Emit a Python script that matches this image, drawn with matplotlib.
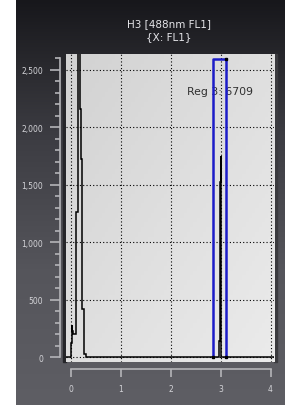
import numpy as np
import matplotlib.pyplot as plt
from matplotlib.patches import Rectangle
from matplotlib.colors import LinearSegmentedColormap

# histogram (bin edges, counts)
bin_edges = [-0.10, 0.01, 0.02, 0.03, 0.04, 0.10, 0.15, 0.18, 0.20, 0.23, 0.27, 0.30,
             2.97, 2.99, 3.00, 3.01, 4.10]
counts = [0, 120, 280, 230, 200, 1260, 2900, 2160, 1720, 420, 25, 0,
          140, 1520, 1750, 0]

# region gate
gate_x = [2.85, 2.85, 3.10, 3.10]
gate_y = [0, 2590, 2590, 0]
gate_label = 'Reg 3: 6709'
label_pos = (2.33, 2310)

x_ticks = [0, 1, 2, 3, 4]
x_labels = ['0', '1', '2', '3', '4']
y_ticks = [0, 500, 1000, 1500, 2000, 2500]
y_labels = ['0', '500', '1,000', '1,500', '2,000', '2,500']
title_lines = ['H3 [488nm FL1]', '{X: FL1}']

W, H = 285, 406
fig = plt.figure(figsize=(W / 100, H / 100), dpi=100)
fig.patch.set_facecolor('white')

# dark panel background
bg = fig.add_axes([16 / W, 0, 1 - 16 / W, 1], zorder=-10)
bg_cmap = LinearSegmentedColormap.from_list('bg', ['#17171b', '#3c3c42', '#55555b', '#5e5e64'])
bg.imshow(np.linspace(0, 1, 256)[:, None], aspect='auto', cmap=bg_cmap, extent=[0, 1, 0, 1])
bg.set_axis_off()

# plot frame shading
fig.patches.append(Rectangle((63 / W, 1 - 363 / H), 3 / W, 308 / H, transform=fig.transFigure,
                             color='#26262a', zorder=-5))
fig.patches.append(Rectangle((274 / W, 1 - 363 / H), 3 / W, 308 / H, transform=fig.transFigure,
                             color='#3a3a3e', zorder=-5))

ax = fig.add_axes([66 / W, 1 - 363 / H, 208 / W, 308 / H])
xlim = (-0.10, 4.07)
ylim = (-43, 2635)
ax.set_xlim(*xlim)
ax.set_ylim(*ylim)

plot_cmap = LinearSegmentedColormap.from_list('pl', ['#d2d2d2', '#dfdfdf', '#ebebeb'])
gx, gy = np.meshgrid(np.linspace(0, 1, 64), np.linspace(0, 1, 64))
ax.imshow((gx + gy) / 2, aspect='auto', cmap=plot_cmap, extent=[*xlim, *ylim],
          origin='upper', zorder=0)

for t in x_ticks:
    ax.axvline(t, color='black', lw=0.8, ls=(0, (1, 2)), zorder=1)
for t in y_ticks:
    ax.axhline(t, color='black', lw=0.8, ls=(0, (1, 2)), zorder=1)

ax.stairs(counts, bin_edges, color='black', lw=1.1, zorder=3)

ax.text(*label_pos, gate_label, fontsize=7.8, color='#303030',
        va='center', ha='left', zorder=2)
ax.plot(gate_x, gate_y, color='#1c1cc8', lw=1.8, solid_joinstyle='round', zorder=4)
ax.plot([gate_x[0], gate_x[3], gate_x[2]], [gate_y[0], gate_y[3], gate_y[2]], 's',
        color='black', ms=2, zorder=5)

# axes styling
for s in ['top', 'right']:
    ax.spines[s].set_visible(False)
ax.spines['left'].set_position(('outward', 4.3))
ax.spines['bottom'].set_position(('outward', 5))
ax.spines['left'].set_bounds(0, 2600)
ax.spines['bottom'].set_bounds(0, 4)
for s in ['left', 'bottom']:
    ax.spines[s].set_color('#b4b4b8')
    ax.spines[s].set_linewidth(1.2)

ax.set_xticks(x_ticks)
ax.set_xticklabels(x_labels)
ax.set_yticks(y_ticks)
ax.set_yticklabels(y_labels)
ax.set_yticks(np.arange(0, 2601, 100), minor=True)
ax.tick_params(axis='y', which='major', length=7, width=1.2, color='#b4b4b8',
               labelcolor='#d4d4d8', labelsize=5.5, pad=5)
ax.tick_params(axis='y', which='minor', length=3.6, width=1.2, color='#b4b4b8')
ax.tick_params(axis='x', which='major', length=5.8, width=1.2, color='#b4b4b8',
               labelcolor='#d4d4d8', labelsize=5.5, pad=5)

fig.text(169 / W, 1 - 24 / H, title_lines[0], color='#e4e4e8', fontsize=7.5,
         ha='center', va='center')
fig.text(169 / W, 1 - 37 / H, title_lines[1], color='#e4e4e8', fontsize=7.5,
         ha='center', va='center')

fig.savefig('out.png', dpi=100)
